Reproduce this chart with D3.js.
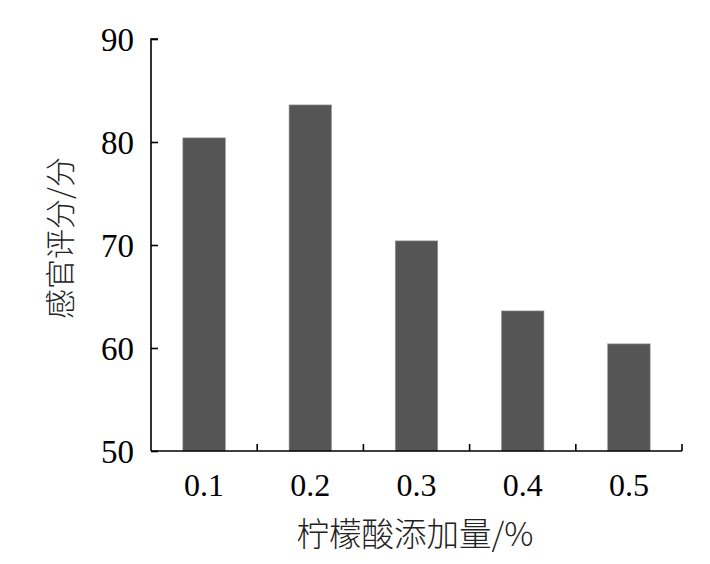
<!DOCTYPE html>
<html><head><meta charset="utf-8">
<script src="https://cdn.jsdelivr.net/npm/d3@7"></script>
<style>body{margin:0;background:#fff}</style>
</head><body>
<svg id="chart" width="710" height="564"></svg>
<script>
const categories = ["0.1","0.2","0.3","0.4","0.5"];
const values = [80.4, 83.6, 70.4, 63.6, 60.4];
const yTicks = [50,60,70,80,90];
const xTitle = "柠檬酸添加量/%";
const yTitle = "感官评分/分";

const svg = d3.select("#chart");
const pL = 151, pR = 682, pT = 39, pB = 451;
const x = d3.scaleBand().domain(categories).range([pL, pR]).paddingInner(0.6).paddingOuter(0.3);
const xb = d3.scaleBand().domain(categories).range([pL, pR]);
const y = d3.scaleLinear().domain([50, 90]).range([pB, pT]);

svg.selectAll("rect.bar").data(values).enter().append("rect")
  .attr("class","bar")
  .attr("x",(d,i)=>x(categories[i]))
  .attr("width",x.bandwidth())
  .attr("y",d=>y(d))
  .attr("height",d=>pB-y(d))
  .attr("fill","#555555")
  .attr("stroke","#9a9a9a").attr("stroke-width",0.6);

// y axis
const ya = svg.append("g").attr("transform",`translate(${pL},0)`)
  .call(d3.axisRight(y).tickValues(yTicks).tickSize(7).tickFormat(""));
ya.select(".domain").attr("d",`M7,${pT}H0V${pB}`);
ya.selectAll("path,line").attr("stroke","#000").attr("stroke-width",1.6);
svg.selectAll("text.ytick").data(yTicks).enter().append("text")
  .attr("class","ytick")
  .attr("x",134).attr("y",d=>y(d)).attr("dy","0.35em")
  .attr("text-anchor","end")
  .attr("font-family","Liberation Serif, serif").attr("font-size",33)
  .text(d=>d);

// x axis
const bounds = categories.map(c=>xb(c)+xb.bandwidth());
svg.append("line").attr("x1",pL).attr("x2",pR).attr("y1",pB).attr("y2",pB)
  .attr("stroke","#000").attr("stroke-width",1.6);
svg.selectAll("line.xt").data(bounds).enter().append("line").attr("class","xt")
  .attr("x1",d=>d).attr("x2",d=>d).attr("y1",pB).attr("y2",pB-7)
  .attr("stroke","#000").attr("stroke-width",1.6);
svg.selectAll("text.xtick").data(categories).enter().append("text")
  .attr("class","xtick")
  .attr("x",d=>xb(d)+xb.bandwidth()/2).attr("y",496)
  .attr("text-anchor","middle")
  .attr("font-family","Liberation Serif, serif").attr("font-size",32)
  .text(d=>d);

svg.append("text").attr("x",415).attr("y",546).attr("text-anchor","middle")
  .attr("font-family","Noto Sans CJK SC").attr("font-weight",300).attr("font-size",32.5)
  .attr("fill","#222").text(xTitle);
svg.append("text").attr("transform","translate(71,238) rotate(-90)").attr("text-anchor","middle")
  .attr("font-family","Noto Sans CJK SC").attr("font-weight",300).attr("font-size",30)
  .attr("fill","#222").text(yTitle);
</script>
</body></html>
